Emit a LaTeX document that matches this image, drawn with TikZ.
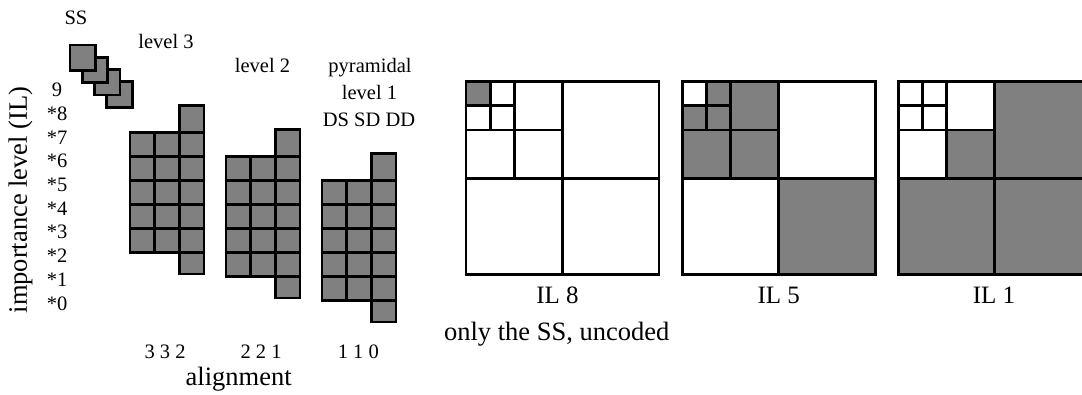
\documentclass[tikz,border=0pt]{standalone}
\usepackage{fontspec}
\setmainfont{Liberation Serif}
\definecolor{cellgray}{HTML}{808080}
\tikzset{
  cell/.style={fill=cellgray,draw=black,line width=2.8pt},
  qline/.style={draw=black,line width=2.8pt},
  small/.style={font=\fontsize{20.5}{26.7}\selectfont,inner sep=0pt},
  big/.style={font=\fontsize{26.5}{30}\selectfont,inner sep=0pt},
  mid/.style={font=\fontsize{25}{30}\selectfont,inner sep=0pt},
}
\begin{document}
\begin{tikzpicture}[x=1pt,y=-1pt]
\useasboundingbox (0,0) rectangle (1082,394);
% SS squares (last drawn on top)
\foreach \i in {3,2,1,0}{
  \draw[cell] ({70+12.2*\i},{45+12.2*\i}) rectangle ++(25.5,25.5);
}
\node[small,anchor=base] (ss) at (76,24) {SS};
% three grids
\foreach \g in {0,1,2}{
  \pgfmathsetmacro{\xo}{130+96*\g}
  \pgfmathsetmacro{\yo}{132.5+24*\g}
  \foreach \c in {0,1,2}{
    \foreach \r in {0,...,4}{
      \draw[cell] ({\xo+24.67*\c},{\yo+24*\r}) rectangle ++(24.67,24);
    }
  }
  \draw[cell] ({\xo+49.33},{\yo-27}) rectangle ({\xo+74},{\yo});
  \draw[cell] ({\xo+49.33},{\yo+120}) rectangle ({\xo+74},{\yo+141.5});
}
% header labels
\node[small,anchor=base] (l3) at (166,48) {level 3};
\node[small,anchor=base] (l2) at (262.5,72.7) {level 2};
\node[small,anchor=base] (pyr) at (370,72.7) {pyramidal};
\node[small,anchor=base] (l1) at (369.5,99.3) {level 1};
\node[small,anchor=base] (dsd) at (369,126) {DS SD DD};
% importance levels
\node[small,anchor=base] (il9) at (57,96.7) {9};
\foreach \k in {8,...,0}{
  \node[small,anchor=base] (il\k) at (57,{96.7+23.7*(9-\k)}) {*\k};
}
\node[big,anchor=base,rotate=90] (ilaxis) at (27,200) {importance level (IL)};
% alignment labels
\node[small,anchor=base] (a3) at (165,358.3) {3 3 2};
\node[small,anchor=base] (a2) at (261,358.3) {2 2 1};
\node[small,anchor=base] (a1) at (358.3,358.3) {1 1 0};
\node[big,anchor=base] (align) at (238.7,385) {alignment};
% quadtrees
\def\S{193}
\def\Y{81.7}
% IL 8
\def\X{466}
\fill[cellgray] (\X,\Y) rectangle ++(\S/8,\S/8);
% IL 5
\def\X{682.3}
\fill[cellgray] (\X,\Y) rectangle ++(\S/2,\S/2);
\fill[white] (\X,\Y) rectangle ++(\S/8,\S/8);
\fill[cellgray] (\X+\S/2,\Y+\S/2) rectangle ++(\S/2,\S/2);
% IL 1
\def\X{898.3}
\fill[cellgray] (\X+\S/2,\Y) rectangle ++(\S/2,\S);
\fill[cellgray] (\X,\Y+\S/2) rectangle ++(\S/2,\S/2);
\fill[cellgray] (\X+\S/4,\Y+\S/4) rectangle ++(\S/4,\S/4);
\foreach \X in {466,682.3,898.3}{
  \draw[qline] (\X,\Y) rectangle ++(\S,\S);
  \draw[qline] (\X+\S/2,\Y) -- ++(0,\S);
  \draw[qline] (\X,\Y+\S/2) -- ++(\S,0);
  \draw[qline] (\X+\S/4,\Y) -- ++(0,\S/2);
  \draw[qline] (\X,\Y+\S/4) -- ++(\S/2,0);
  \draw[qline] (\X+\S/8,\Y) -- ++(0,\S/4);
  \draw[qline] (\X,\Y+\S/8) -- ++(\S/4,0);
}
\node[mid,anchor=base] (q8) at (557.5,303.3) {IL 8};
\node[mid,anchor=base] (q5) at (778.7,303.3) {IL 5};
\node[mid,anchor=base] (q1) at (994,303.3) {IL 1};
\node[big,anchor=base] (only) at (556.7,340) {only the SS, uncoded};
\end{tikzpicture}
\end{document}
